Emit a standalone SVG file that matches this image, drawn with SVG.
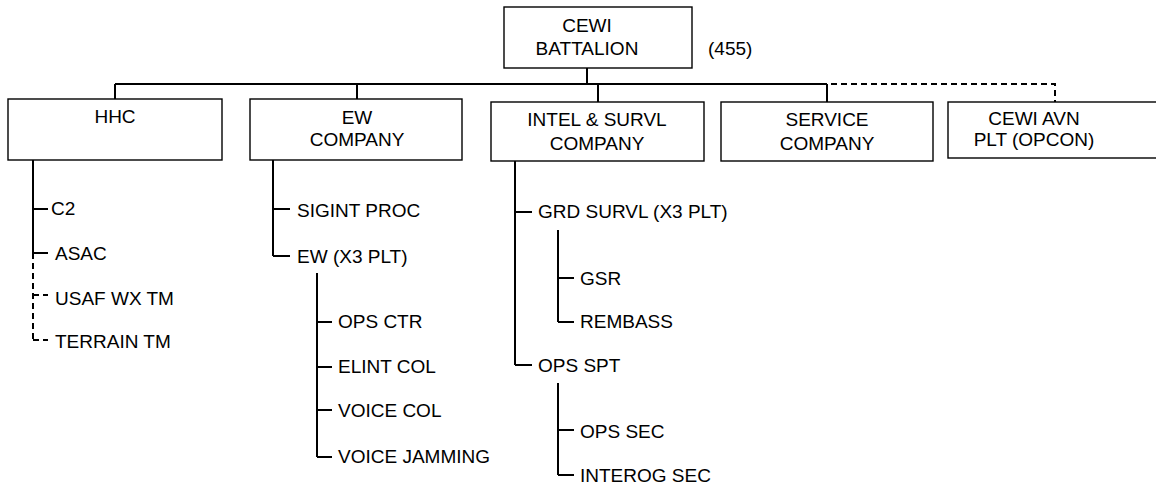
<svg xmlns="http://www.w3.org/2000/svg" width="1156" height="486" viewBox="0 0 1156 486">
<style>
text{font-family:"Liberation Sans",Arial,sans-serif;font-size:19px;fill:#000}
.c{text-anchor:middle}
.box{fill:#fff;stroke:#000;stroke-width:1.4}
.ln{fill:none;stroke:#000;stroke-width:2}
.dl{fill:none;stroke:#000;stroke-width:2;stroke-dasharray:6 4}
</style>
<rect width="1156" height="486" fill="#fff"/>
<g id="connectors">
<path class="ln" d="M587 68V84M115 84H827M115 84V99M357 84V99M598 84V102M827 84V102"/>
<path class="dl" d="M831 84H1055V102"/>
<path class="ln" d="M33 160V253M33 209H48M33 253H48"/>
<path class="dl" d="M33 253V340M33 295H48M33 340H48"/>
<path class="ln" d="M273 160V256M273 209H290M273 256H290"/>
<path class="ln" d="M317 273V457M317 322H332M317 367H332M317 410H332M317 457H332"/>
<path class="ln" d="M515 161V365M515 212H532M515 365H532"/>
<path class="ln" d="M558 230V322M558 278H574M558 322H574"/>
<path class="ln" d="M558 383V475M558 430H574M558 475H574"/>
</g>
<g id="cewi-battalion">
<rect class="box" x="504" y="7" width="188" height="61"/>
<text class="c" x="587" y="32">CEWI</text>
<text class="c" x="587" y="55">BATTALION</text>
<text x="708" y="55">(455)</text>
</g>
<g id="hhc">
<rect class="box" x="8" y="99" width="214" height="61"/>
<text class="c" x="115" y="123">HHC</text>
</g>
<g id="ew-company">
<rect class="box" x="250" y="99" width="212" height="61"/>
<text class="c" x="357" y="124">EW</text>
<text class="c" x="357" y="146">COMPANY</text>
</g>
<g id="intel-survl-company">
<rect class="box" x="491" y="102" width="213" height="59"/>
<text class="c" x="597" y="126">INTEL &amp; SURVL</text>
<text class="c" x="597" y="150">COMPANY</text>
</g>
<g id="service-company">
<rect class="box" x="721" y="102" width="212" height="59"/>
<text class="c" x="827" y="126">SERVICE</text>
<text class="c" x="827" y="150">COMPANY</text>
</g>
<g id="cewi-avn-plt">
<rect class="box" x="948" y="102" width="215" height="56"/>
<text class="c" x="1034" y="125">CEWI AVN</text>
<text class="c" x="1034" y="146">PLT (OPCON)</text>
</g>
<g id="hhc-items">
<text x="51" y="215">C2</text>
<text x="55" y="260">ASAC</text>
<text x="55" y="305">USAF WX TM</text>
<text x="55" y="348">TERRAIN TM</text>
</g>
<g id="ew-items">
<text x="297" y="217">SIGINT PROC</text>
<text x="297" y="263">EW (X3 PLT)</text>
<text x="338" y="328">OPS CTR</text>
<text x="338" y="373">ELINT COL</text>
<text x="338" y="417">VOICE COL</text>
<text x="338" y="463">VOICE JAMMING</text>
</g>
<g id="intel-items">
<text x="538" y="218">GRD SURVL (X3 PLT)</text>
<text x="538" y="372">OPS SPT</text>
<text x="580" y="285">GSR</text>
<text x="580" y="328">REMBASS</text>
<text x="580" y="438">OPS SEC</text>
<text x="580" y="482">INTEROG SEC</text>
</g>
</svg>
